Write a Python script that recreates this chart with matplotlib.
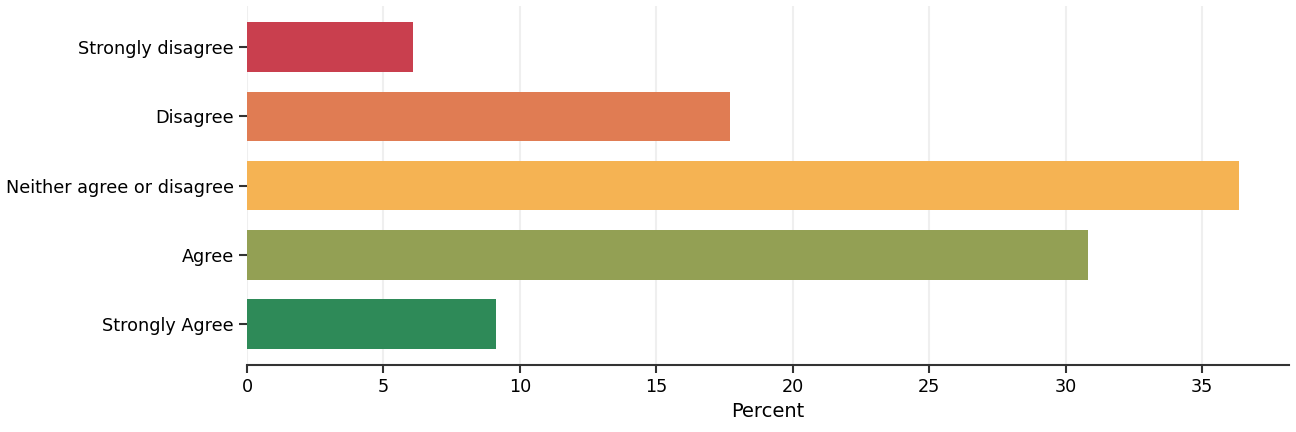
import matplotlib
matplotlib.use("Agg")
import matplotlib.pyplot as plt

plt.rcParams['font.family'] = ['DejaVu Sans']

# Categories and values (percent)
categories = ["Strongly disagree", "Disagree", "Neither agree or disagree", "Agree", "Strongly Agree"]
percents = [6.08, 17.68, 36.36, 30.83, 9.12]
colors = ["#c93f4e", "#e07c53", "#f5b353", "#93a054", "#2e8a58"]

fig, ax = plt.subplots(figsize=(12.96, 4.32), dpi=100)
fig.subplots_adjust(left=0.1906, right=0.9946, top=0.986, bottom=0.155)

ax.barh(categories, percents, height=0.72, color=colors, zorder=2)
ax.invert_yaxis()

ax.grid(axis="x", color="#efefef", linewidth=1.5, zorder=0)
ax.set_axisbelow(True)
for side in ["top", "right", "left"]:
    ax.spines[side].set_visible(False)
ax.spines["bottom"].set_color("#333333")
ax.spines["bottom"].set_linewidth(1.5)
ax.tick_params(axis="both", colors="#333333", width=1.5, length=6, labelsize=12.7, labelcolor="black")
ax.set_xlabel("Percent", fontsize=14)

plt.savefig("out.png")
